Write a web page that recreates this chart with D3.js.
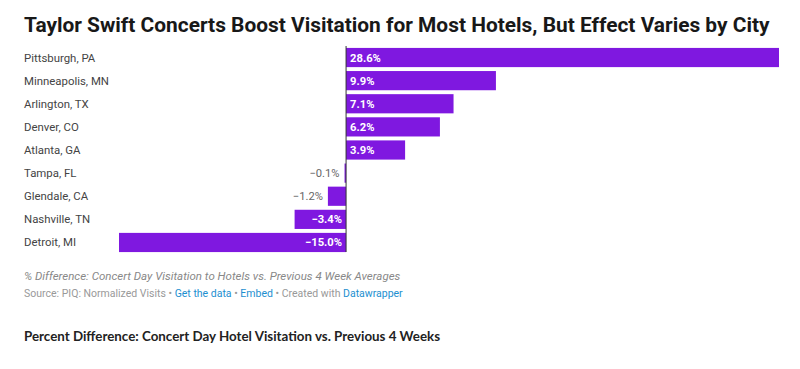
<!DOCTYPE html>
<html>
<head>
<meta charset="utf-8">
<script src="https://cdn.jsdelivr.net/npm/d3@7"></script>
<style>
  body { margin: 0; background: #fff; }
  svg { display: block; }
</style>
</head>
<body>
<svg id="chart" width="800" height="369"></svg>
<script>
const cities = ['Pittsburgh, PA', 'Minneapolis, MN', 'Arlington, TX', 'Denver, CO', 'Atlanta, GA',
    'Tampa, FL', 'Glendale, CA', 'Nashville, TN', 'Detroit, MI'];
const diffs = [28.6, 9.9, 7.1, 6.2, 3.9, -0.1, -1.2, -3.4, -15.0];
const titleText = 'Taylor Swift Concerts Boost Visitation for Most Hotels, But Effect Varies by City';
const noteText = '% Difference: Concert Day Visitation to Hotels vs. Previous 4 Week Averages';
const bottomText = 'Percent Difference: Concert Day Hotel Visitation vs. Previous 4 Weeks';

const svg = d3.select('#chart');
const purple = '#7f18e0';

svg.append('text')
    .attr('x', 24).attr('y', 32)
    .style('font-family', 'Roboto').style('font-weight', 700)
    .style('font-size', '20.9px').style('fill', '#181818')
    .text(titleText);

const x = d3.scaleLinear().domain([-15, 28.6]).range([119, 779]);
const y = d3.scaleBand().domain(cities).range([47, 253]).paddingInner(0.17).paddingOuter(0.04);

const rows = cities.map((c, i) => ({ city: c, v: diffs[i] }));

// city labels down the left
svg.selectAll('.city')
    .data(rows)
    .enter()
    .append('text')
    .attr('x', 24)
    .attr('y', d => y(d.city) + y.bandwidth() / 2 + 4)
    .style('font-family', 'Roboto').style('font-size', '11.4px').style('fill', '#444')
    .text(d => d.city);

svg.selectAll('.bar')
    .data(rows)
    .enter()
    .append('rect')
    .attr('x', d => x(Math.min(0, d.v)))
    .attr('width', d => Math.abs(x(d.v) - x(0)))
    .attr('y', d => y(d.city))
    .attr('height', y.bandwidth())
    .style('fill', purple);

// value labels: inside the bar if it fits, otherwise outside in gray
const fmt = v => (v < 0 ? '\u2212' : '') + Math.abs(v).toFixed(1) + '%';
const fits = d => Math.abs(x(d.v) - x(0)) > 36;

svg.selectAll('.val')
    .data(rows)
    .enter()
    .append('text')
    .attr('x', d => {
        if (d.v >= 0) return x(0) + 4;
        return fits(d) ? x(0) - 4 : x(d.v) - 5;
    })
    .attr('y', d => y(d.city) + y.bandwidth() / 2 + 4)
    .attr('text-anchor', d => d.v >= 0 ? 'start' : 'end')
    .style('font-family', 'Roboto').style('font-size', '11.2px')
    .style('font-weight', d => fits(d) ? 700 : 400)
    .style('fill', d => fits(d) ? '#fff' : '#666')
    .text(d => fmt(d.v));

svg.append('line')
    .attr('x1', x(0)).attr('x2', x(0))
    .attr('y1', 46).attr('y2', 252)
    .style('stroke', '#333').style('stroke-width', 1);

svg.append('text')
    .attr('x', 24).attr('y', 280)
    .style('font-family', 'Roboto').style('font-style', 'italic')
    .style('font-size', '11.5px').style('fill', '#888')
    .text(noteText);

const source = svg.append('text')
    .attr('x', 24).attr('y', 297)
    .style('font-family', 'Roboto').style('font-size', '10.5px').style('fill', '#999');
source.append('tspan').text('Source: PIQ: Normalized Visits \u2022 ');
source.append('tspan').style('fill', '#1d8fd0').text('Get the data');
source.append('tspan').text(' \u2022 ');
source.append('tspan').style('fill', '#1d8fd0').text('Embed');
source.append('tspan').text(' \u2022 Created with ');
source.append('tspan').style('fill', '#1d8fd0').text('Datawrapper');

svg.append('text')
    .attr('x', 24).attr('y', 341)
    .style('font-family', 'Lato').style('font-weight', 700)
    .style('font-size', '13.35px').style('fill', '#222')
    .text(bottomText);
</script>
</body>
</html>
